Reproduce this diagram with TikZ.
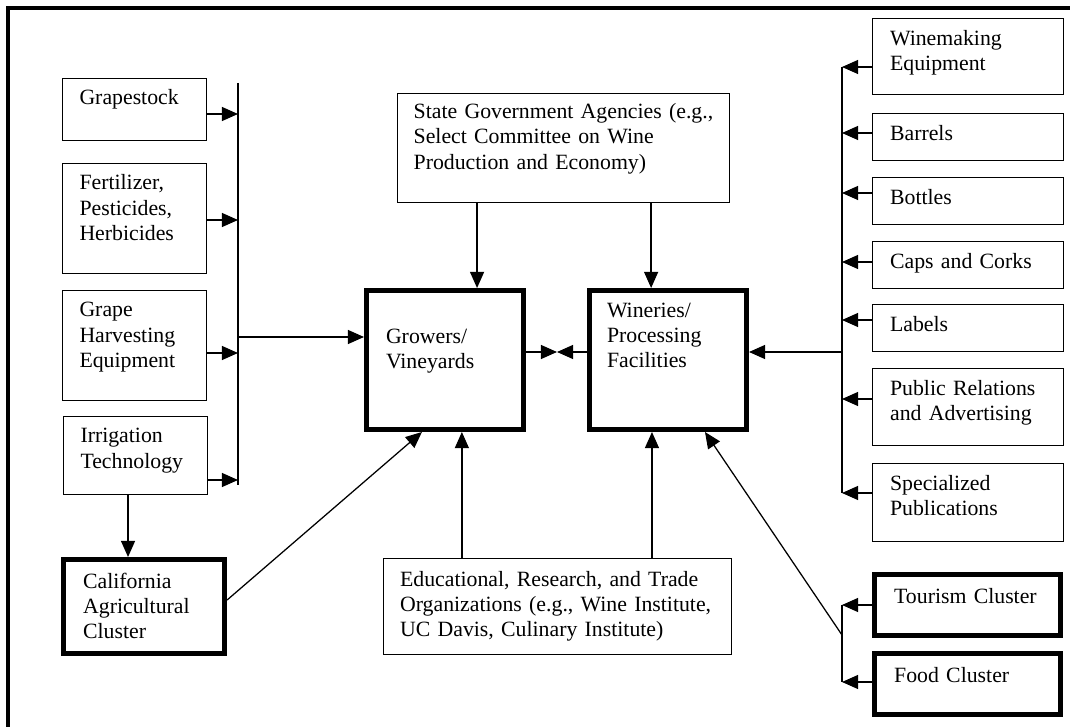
\documentclass[tikz,border=0pt]{standalone}
\usepackage{fontspec}
\setmainfont{Liberation Serif}
\usetikzlibrary{arrows.meta}

\begin{document}
\begin{tikzpicture}[
    x=0.025cm, y=-0.025cm,
    kasten/.style={draw, line width=0.9pt, anchor=north west, align=left,
      inner xsep=12pt, inner ysep=0pt, text height=18.75pt,
      font=\fontsize{15.5}{17.8}\selectfont},
    links/.style={kasten, text width=78.2pt},
    rechts/.style={kasten, inner xsep=12.4pt, text width=110.9pt, text height=18.8pt},
    dick/.style={kasten, line width=3.5pt},
    pfeil/.style={line width=0.9pt, -{Triangle[length=11.5pt, width=10pt]}},
    linie/.style={line width=0.9pt},
  ]

  \useasboundingbox (0,0) rectangle (1073,727);
  \draw[line width=2.8pt] (8,727) -- (8,8) -- (1070,8);

  \node[links, text depth=25.2pt] (grape) at (62,78) {Grapestock};
  \node[links, text depth=59.4pt] (fert) at (62,163) {Fertilizer,\\Pesticides,\\Herbicides};
  \node[links, text depth=59.4pt] (harvest) at (62,290) {Grape\\Harvesting\\Equipment};
  \node[links, text depth=36.6pt] (irrig) at (63,416) {Irrigation\\Technology};
  \node[dick, inner xsep=14pt, text width=86.6pt, text height=20.3pt, text depth=46.6pt]
    (calif) at (61,557) {California\\Agricultural\\Cluster};

  \node[dick, inner xsep=13.9pt, text width=83.9pt, text height=37.4pt, text depth=61.5pt]
    (growers) at (364,288) {Growers/\\Vineyards};
  \node[dick, inner xsep=12.5pt, text width=86.7pt, text height=18.9pt, text depth=80pt]
    (wineries) at (587,288) {Wineries/\\Processing\\Facilities};

  \node[kasten, inner xsep=11.4pt, text width=213.2pt, text height=18pt, text depth=59.3pt]
    (state) at (397,93) {State Government Agencies (e.g.,\\Select Committee on Wine\\Production and Economy)};
  \node[kasten, inner xsep=11.7pt, text width=223.9pt, text height=19.5pt, text depth=48.6pt]
    (edu) at (383,558) {Educational, Research, and Trade\\Organizations (e.g., Wine Institute,\\UC Davis, Culinary Institute)};

  \node[rechts, text depth=35.1pt] (equip) at (872,18) {Winemaking\\Equipment};
  \node[rechts, text depth=14.4pt] (barrels) at (872,113) {Barrels};
  \node[rechts, text depth=14.4pt] (bottles) at (872,177) {Bottles};
  \node[rechts, text depth=14.4pt] (caps) at (872,241) {Caps and Corks};
  \node[rechts, text depth=14.4pt] (labels) at (872,304) {Labels};
  \node[rechts, text depth=35.8pt] (pr) at (872,368) {Public Relations\\and Advertising};
  \node[rechts, text depth=36.5pt] (publ) at (872,463) {Specialized\\Publications};

  \node[dick, inner xsep=14pt, text width=104.4pt, text height=20.3pt, text depth=23.1pt]
    (tourism) at (872,572) {Tourism Cluster};
  \node[dick, inner xsep=14pt, text width=104.4pt, text height=20.3pt, text depth=23.1pt]
    (food) at (872,651) {Food Cluster};

  \coordinate (lo) at (238,83);
  \coordinate (lu) at (238,485);
  \coordinate (l1) at (238,114);
  \coordinate (l2) at (238,220);
  \coordinate (l3) at (238,353);
  \coordinate (l4) at (238,480);
  \coordinate (lm) at (238,337);

  \draw[linie] (lo) -- (lu);
  \draw[pfeil] (grape.east |- l1) -- (l1);
  \draw[pfeil] (fert.east |- l2) -- (l2);
  \draw[pfeil] (harvest.east |- l3) -- (l3);
  \draw[pfeil] (irrig.east |- l4) -- (l4);
  \draw[pfeil] (lm) -- (lm -| growers.west);

  \coordinate (i1) at ([xshift=-5.3pt]irrig.south);
  \draw[pfeil] (i1) -- (i1 |- calif.north);

  \coordinate (c1) at ([yshift=4.6pt]calif.east);
  \coordinate (g1) at ([xshift=-16.4pt]growers.south);
  \draw[pfeil] (c1) -- (g1);

  \coordinate (g2) at ([xshift=12pt]growers.south);
  \coordinate (w2) at ([xshift=-11.4pt]wineries.south);
  \draw[pfeil] (g2 |- edu.north) -- (g2);
  \draw[pfeil] (w2 |- edu.north) -- (w2);

  \coordinate (g3) at ([xshift=22.8pt]growers.north);
  \coordinate (w3) at ([xshift=-12pt]wineries.north);
  \draw[pfeil] (g3 |- state.south) -- (g3);
  \draw[pfeil] (w3 |- state.south) -- (w3);

  \coordinate (mitte) at (557,352);
  \draw[pfeil] (mitte -| growers.east) -- (mitte);
  \draw[pfeil] (mitte -| wineries.west) -- (mitte);

  \coordinate (ro) at (842,67);
  \coordinate (ru) at (842,493);
  \coordinate (r1) at (842,67);
  \coordinate (r2) at (842,133);
  \coordinate (r3) at (842,193);
  \coordinate (r4) at (842,262);
  \coordinate (r5) at (842,320);
  \coordinate (r6) at (842,399);
  \coordinate (r7) at (842,493);
  \coordinate (rm) at (842,352);

  \draw[linie] (ro) -- (ru);
  \draw[pfeil] (equip.west |- r1) -- (r1);
  \draw[pfeil] (barrels.west |- r2) -- (r2);
  \draw[pfeil] (bottles.west |- r3) -- (r3);
  \draw[pfeil] (caps.west |- r4) -- (r4);
  \draw[pfeil] (labels.west |- r5) -- (r5);
  \draw[pfeil] (pr.west |- r6) -- (r6);
  \draw[pfeil] (publ.west |- r7) -- (r7);
  \draw[pfeil] (rm) -- (rm -| wineries.east);

  \coordinate (to) at (842,605);
  \coordinate (fu) at (842,682);
  \coordinate (tm) at (842,635);
  \coordinate (w4) at ([xshift=26.3pt]wineries.south);

  \draw[linie] (to) -- (fu);
  \draw[pfeil] (tourism.west |- to) -- (to);
  \draw[pfeil] (food.west |- fu) -- (fu);
  \draw[pfeil] (tm) -- (w4);
\end{tikzpicture}
\end{document}
